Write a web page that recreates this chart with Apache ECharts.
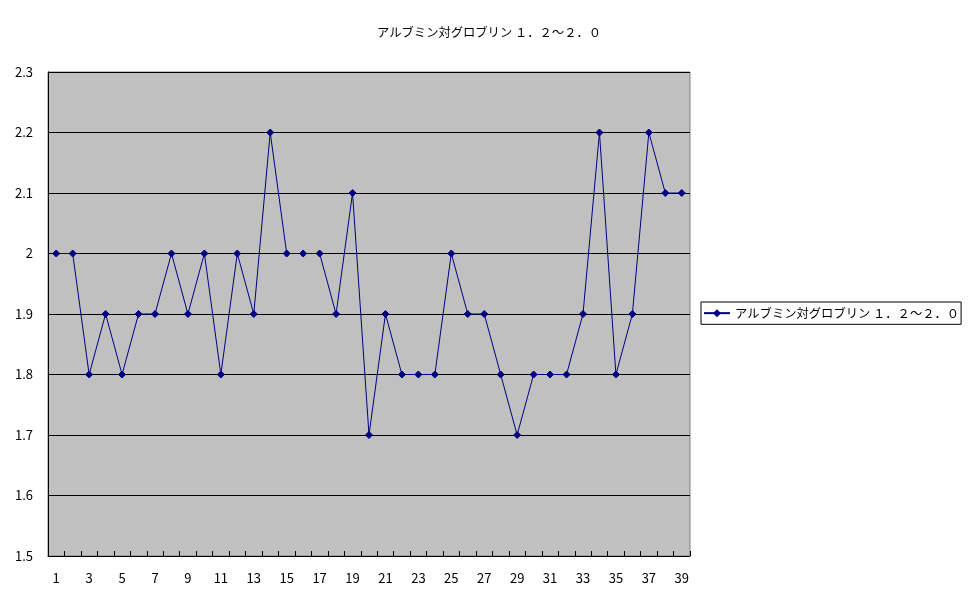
<!DOCTYPE html>
<html><head><meta charset="utf-8">
<script src="https://cdn.jsdelivr.net/npm/echarts@6/dist/echarts.min.js"></script>
<style>html,body{margin:0;padding:0;background:#fff}#c{width:970px;height:603px}</style>
</head><body><div id="c"></div>
<script>
const titleText = "アルブミン対グロブリン １．２～２．０";
const seriesName = "アルブミン対グロブリン １．２～２．０";
const categories = ["1","2","3","4","5","6","7","8","9","10","11","12","13","14","15","16","17","18","19","20","21","22","23","24","25","26","27","28","29","30","31","32","33","34","35","36","37","38","39"];
const values = [2.0,2.0,1.8,1.9,1.8,1.9,1.9,2.0,1.9,2.0,1.8,2.0,1.9,2.2,2.0,2.0,2.0,1.9,2.1,1.7,1.9,1.8,1.8,1.8,2.0,1.9,1.9,1.8,1.7,1.8,1.8,1.8,1.9,2.2,1.8,1.9,2.2,2.1,2.1];
const yMin = 1.5, yMax = 2.3, yStep = 0.1;

const font = '"Noto Sans CJK JP", "DejaVu Sans", sans-serif';
const chart = echarts.init(document.getElementById('c'), null, {renderer:'canvas'});
chart.setOption({
  animation:false,
  backgroundColor:'#ffffff',
  title:{text:titleText,left:484,top:21,textAlign:'center',
    textStyle:{fontFamily:font,fontSize:12.3,fontWeight:'normal',color:'#000'}},
  legend:{show:true,left:701,top:302,orient:'vertical',
    data:[seriesName],
    borderColor:'#000',borderWidth:1,padding:[5,2,5,2],
    itemWidth:26,itemHeight:10,itemGap:0,
    textStyle:{fontFamily:font,fontSize:12.3,color:'#000'}},
  grid:{left:48,top:72,width:642,height:484,containLabel:false,
    show:true,backgroundColor:'#c0c0c0',borderColor:'#808080',borderWidth:1},
  xAxis:{type:'category',data:categories,boundaryGap:true,
    axisLine:{lineStyle:{color:'#000',width:1}},
    axisTick:{show:true,inside:true,length:5,interval:0,alignWithLabel:false,lineStyle:{color:'#000'}},
    axisLabel:{interval:1,margin:16,fontFamily:font,fontSize:13,color:'#000'},
    splitLine:{show:false}},
  yAxis:{type:'value',min:yMin,max:yMax,interval:yStep,
    axisLine:{show:true,lineStyle:{color:'#000',width:1}},
    axisTick:{show:false},
    axisLabel:{margin:15,fontFamily:font,fontSize:13,color:'#000',
      formatter:v=>{const r=Math.round(v*10)/10;return Number.isInteger(r)?String(r):r.toFixed(1);}},
    splitLine:{show:true,lineStyle:{color:'#000',width:1}}},
  series:[{name:seriesName,type:'line',data:values,
    symbol:'diamond',symbolSize:7,showAllSymbol:true,
    lineStyle:{color:'#000080',width:1},
    itemStyle:{color:'#000080',borderColor:'#000080'}}]
});
</script></body></html>
